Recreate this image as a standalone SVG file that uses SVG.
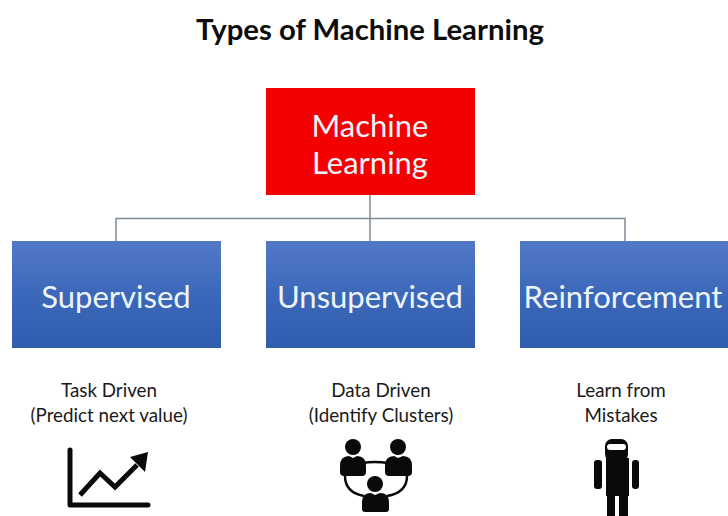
<svg xmlns="http://www.w3.org/2000/svg" width="728" height="516" viewBox="0 0 728 516">
<style>
text{font-family:"Lato","Open Sans","Liberation Sans",sans-serif;text-anchor:middle}
.title{font-size:29.300px;font-weight:700;fill:#0d0d0d}
.big{font-size:31px;fill:#eef4fb}
.small{font-size:18.800px;fill:#1a1a1a}
.blue{fill:url(#bl)}
.conn{fill:none;stroke:#7f8c99;stroke-width:1.500}
.ink{fill:#0a0a0a}
.line{fill:none;stroke:#0a0a0a}
</style>
<defs>
<linearGradient id="bl" x1="0" y1="0" x2="0" y2="1">
<stop offset="0" stop-color="#5379c6"/>
<stop offset="0.500" stop-color="#3c68ba"/>
<stop offset="1" stop-color="#2f5cac"/>
</linearGradient>
</defs>
<rect width="728" height="516" fill="#fff"/>
<text id="title" class="title" x="370" y="40">Types of Machine Learning</text>
<g id="connectors">
<path class="conn" d="M370 195V241M116 241V218.500H625V241"/>
</g>
<g id="machine-learning">
<rect x="266" y="88" width="209" height="107" fill="#f40000"/>
<text class="big" x="370" y="137">Machine</text>
<text class="big" x="370" y="174">Learning</text>
</g>
<g id="supervised">
<rect class="blue" x="12" y="241" width="209" height="107"/>
<text class="big" x="116" y="308">Supervised</text>
<text class="small" x="109" y="397">Task Driven</text>
<text class="small" x="109" y="422">(Predict next value)</text>
<path class="line" d="M70 450V505H148" stroke-width="5" stroke-linecap="round" stroke-linejoin="round"/>
<path class="line" d="M80 495L100 473L115 487L137 465" stroke-width="5"/>
<path class="ink" d="M148 452L130 457L145 472Z"/>
</g>
<g id="unsupervised">
<rect class="blue" x="266" y="241" width="209" height="107"/>
<text class="big" x="370" y="308">Unsupervised</text>
<text class="small" x="381" y="397">Data Driven</text>
<text class="small" x="381" y="422">(Identify Clusters)</text>
<path class="line" stroke-width="2.500" d="M362 463Q375 461 388 463M345 476C345 488 353 494 364 496M407 476C407 488 399 494 387 496"/>
<circle class="ink" cx="353" cy="447" r="8"/>
<circle class="ink" cx="398" cy="447" r="8"/>
<circle class="ink" cx="375" cy="484" r="8"/>
<path class="ink" d="M340 472V466Q340 456 349 456L353 458L357 456Q366 456 366 466V472Q366 476 362 476H344Q340 476 340 472Z"/>
<path class="ink" d="M385 472V466Q385 456 394 456L398 458L403 456Q412 456 412 466V472Q412 476 408 476H389Q385 476 385 472Z"/>
<path class="ink" d="M362 509V502Q362 493 371 493L375 495L380 493Q389 493 389 502V509Q389 512 386 512H365Q362 512 362 509Z"/>
</g>
<g id="reinforcement">
<rect class="blue" x="520" y="241" width="208" height="107"/>
<text class="big" x="623" y="308">Reinforcement</text>
<text class="small" x="621" y="397">Learn from</text>
<text class="small" x="621" y="422">Mistakes</text>
<rect class="ink" x="605" y="439" width="23" height="22" rx="7"/>
<rect x="607" y="444" width="19" height="6" rx="3" fill="#fff"/>
<rect class="ink" x="606" y="458" width="23" height="38"/>
<rect class="ink" x="594" y="460" width="8" height="29" rx="3"/>
<rect class="ink" x="632" y="460" width="7" height="29" rx="3"/>
<rect class="ink" x="607" y="494" width="8" height="22"/>
<rect class="ink" x="619" y="494" width="9" height="22"/>
</g>
</svg>
